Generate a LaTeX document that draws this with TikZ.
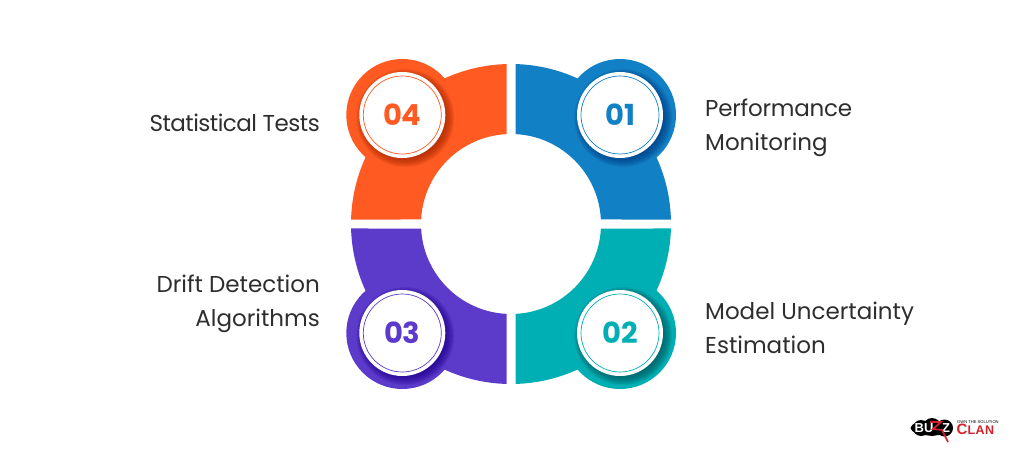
\documentclass[tikz,border=0pt]{standalone}
\usepackage{fontspec}
\setmainfont{Poppins}
\newfontfamily\logofont{Liberation Sans}
\newfontfamily\tightfont[LetterSpace=-2.2]{Poppins}
\newfontfamily\slightfont[LetterSpace=-1.0]{Poppins}
\newfontfamily\logowide[LetterSpace=4]{Liberation Sans}
\definecolor{cOrange}{HTML}{FF5A22}
\definecolor{cBlue}{HTML}{1280C4}
\definecolor{cPurple}{HTML}{5C3BCB}
\definecolor{cTeal}{HTML}{00AFB3}
\definecolor{sOrange}{HTML}{A82800}
\definecolor{sBlue}{HTML}{003E86}
\definecolor{sPurple}{HTML}{22008E}
\definecolor{sTeal}{HTML}{00585E}
\definecolor{cText}{HTML}{2E2E2E}
\definecolor{cLogoRed}{HTML}{D3232A}
\tikzset{
  label/.style={font=\fontsize{23}{23}\selectfont, text=cText, inner sep=0pt},
  numtxt/.style={font=\fontsize{29}{29}\selectfont\bfseries, inner sep=0pt},
}
\newcommand{\sectorpath}[1]{
  ([shift={(511,243)}]#1+1.61:160pt) arc[start angle=#1+1.61, end angle=#1+88.39, radius=160pt]
  -- ([shift={(511,243)}]#1+87.13:90pt) arc[start angle=#1+87.13, end angle=#1+2.87, radius=90pt] -- cycle
}
\newcommand{\quadrant}[7]{
  \fill[#1] \sectorpath{#3} (#4,#5) circle[radius=56pt];
  \begin{scope}
    \clip \sectorpath{#3} (#4,#5) circle[radius=56pt];
    \foreach \r in {40,41,...,49}{
      \fill[#2, opacity=0.13] (#4+3,#5-3) circle[radius=\r pt];
    }
  \end{scope}
  \fill[white] (#4,#5) circle[radius=43pt];
  \draw[#1, line width=0.7pt] (#4,#5) circle[radius=39pt];
  \node[numtxt, text=#1] (#7) at (#4,#5) {#6};
}
\begin{document}
\begin{tikzpicture}[x=1pt,y=1pt]
\useasboundingbox (0,0) rectangle (1024,467);
\fill[white] (0,0) rectangle (1024,467);
\quadrant{cBlue}{sBlue}{0}{620}{352}{01}{n1}
\quadrant{cTeal}{sTeal}{270}{620}{134}{02}{n2}
\quadrant{cPurple}{sPurple}{180}{402.3}{134}{03}{n3}
\quadrant{cOrange}{sOrange}{90}{402.3}{352}{04}{n4}
\node[label, anchor=base east] (t4) at (320,336) {\tightfont Statistical Tests};
\node[label, anchor=base west] (t1a) at (705,351) {\slightfont Performance};
\node[label, anchor=base west] (t1b) at (705,317) {Monitoring};
\node[label, anchor=base east] (t3a) at (320,175) {Drift Detection};
\node[label, anchor=base east] (t3b) at (320,141) {Algorithms};
\node[label, anchor=base west] (t2a) at (705,148) {Model Uncertainty};
\node[label, anchor=base west] (t2b) at (705,114) {Estimation};
% logo
\fill[black] (931.5,39) ellipse[x radius=21pt, y radius=7.5pt];
\fill[black] (921,39) circle[radius=8pt];
\fill[black] (932,40) circle[radius=9pt];
\fill[black] (944.5,39) circle[radius=8.5pt];
\node[inner sep=0pt, text=white, font=\logofont\fontsize{13}{13}\selectfont\bfseries] (lb) at (924,39) {BU};
\node[inner sep=0pt, text=white, font=\logofont\fontsize{13}{13}\selectfont\bfseries] (lz) at (946,39) {Z};
\draw[cLogoRed, line width=1.7pt, line join=miter] (930,45) -- (941,45) -- (933,38) -- (942,37) -- (948,25);
\node[inner sep=0pt, text=cLogoRed, font=\logowide\bfseries, anchor=base west] (lc) at (956.5,33) {\fontsize{15}{15}\selectfont C\fontsize{12.5}{12.5}\selectfont LAN};
\node[inner sep=0pt, text=black, font=\logofont\fontsize{4.1}{4.1}\selectfont, anchor=base west] (ls) at (957,44) {OWN THE SOLUTION};
\end{tikzpicture}
\end{document}
